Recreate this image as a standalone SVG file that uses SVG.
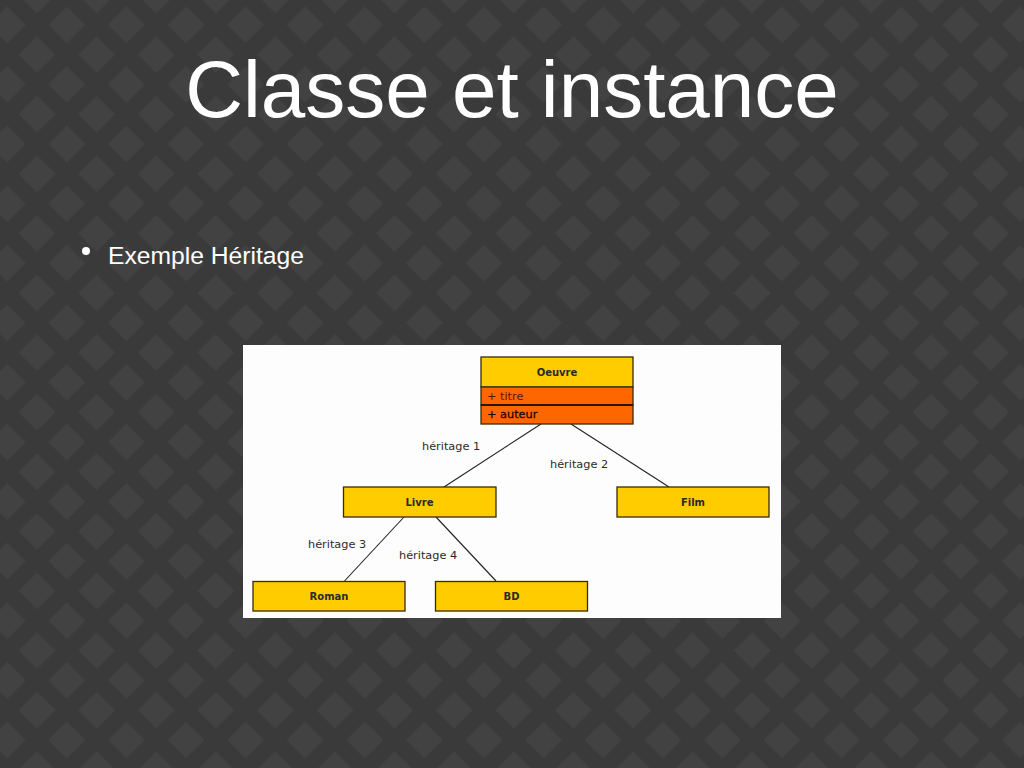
<svg xmlns="http://www.w3.org/2000/svg" width="1024" height="768" viewBox="0 0 1024 768">
<defs>
<pattern id="lattice" patternUnits="userSpaceOnUse" x="7.2" y="24.8" width="59.6" height="59.6">
<rect width="59.6" height="59.6" fill="#3a3a3a"/>
<g fill="#424242">
<polygon points="29.8,11.5 48.1,29.8 29.8,48.1 11.5,29.8"/>
<polygon points="0,-18.3 18.3,0 0,18.3 -18.3,0"/>
<polygon points="59.6,-18.3 77.9,0 59.6,18.3 41.3,0"/>
<polygon points="0,41.3 18.3,59.6 0,77.9 -18.3,59.6"/>
<polygon points="59.6,41.3 77.9,59.6 59.6,77.9 41.3,59.6"/>
</g>
</pattern>
<style>
.title{font-family:"Liberation Sans",Arial,sans-serif;fill:#ffffff}
.box{fill:#ffcc00;stroke:#3a2c00;stroke-width:1.3}
.attr{fill:#ff6600;stroke:#3a2c00;stroke-width:1.3}
.lbl{font-family:"DejaVu Sans",sans-serif;font-size:10px;font-weight:bold;fill:#2a2a2a;text-anchor:middle}
.edge{font-family:"DejaVu Sans",sans-serif;font-size:11.3px;fill:#2a2a2a}
.at{font-family:"DejaVu Sans",sans-serif;font-size:11.3px}
.conn line{stroke:#222;stroke-width:1.1}
</style>
</defs>
<rect width="1024" height="768" fill="url(#lattice)"/>
<text class="title" x="512" y="117" font-size="80" text-anchor="middle">Classe et instance</text>
<circle cx="86" cy="251" r="4" fill="#ffffff"/>
<text class="title" x="108" y="264" font-size="24.5" textLength="196" lengthAdjust="spacingAndGlyphs">Exemple Héritage</text>
<rect x="243" y="345" width="538" height="273" fill="#fdfdfd"/>
<g id="connectors" class="conn">
<line x1="541" y1="424" x2="444" y2="487"/>
<line x1="571" y1="424" x2="669" y2="487"/>
<line x1="404" y1="517" x2="344.5" y2="581"/>
<line x1="436" y1="517" x2="496" y2="581"/>
<text class="edge" x="422" y="450">héritage 1</text>
<text class="edge" x="550" y="468">héritage 2</text>
<text class="edge" x="308" y="548">héritage 3</text>
<text class="edge" x="399" y="559">héritage 4</text>
</g>
<g id="oeuvre">
<rect class="box" x="481" y="357" width="152" height="30"/>
<rect class="attr" x="481" y="387" width="152" height="18"/>
<rect class="attr" x="481" y="405" width="152" height="19"/>
<line x1="481" y1="405" x2="633" y2="405" stroke="#2a1500" stroke-width="2"/>
<text class="lbl" x="557" y="376">Oeuvre</text>
<text class="at" x="487" y="400" fill="#5a1800">+ titre</text>
<text class="at" x="487" y="418" fill="#1a0800" stroke="#1a0800" stroke-width="0.3">+ auteur</text>
</g>
<g id="livre">
<rect class="box" x="343.5" y="487" width="152.5" height="30"/>
<text class="lbl" x="419.5" y="506">Livre</text>
</g>
<g id="film">
<rect class="box" x="617" y="487" width="152" height="30"/>
<text class="lbl" x="693" y="506">Film</text>
</g>
<g id="roman">
<rect class="box" x="253" y="581.5" width="152" height="29.5"/>
<text class="lbl" x="329" y="600">Roman</text>
</g>
<g id="bd">
<rect class="box" x="435.5" y="581.5" width="152" height="29.5"/>
<text class="lbl" x="511.5" y="600">BD</text>
</g>
</svg>
